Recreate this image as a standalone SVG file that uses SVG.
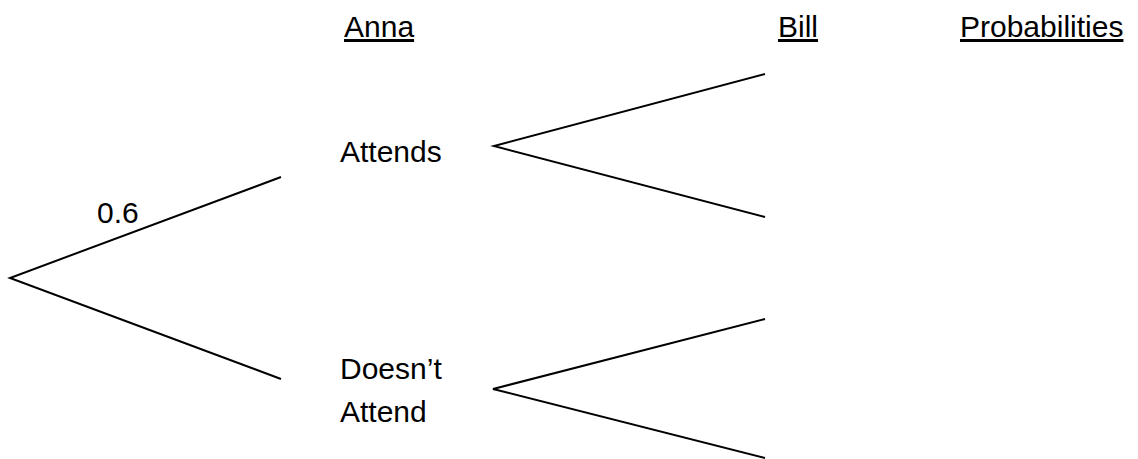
<svg xmlns="http://www.w3.org/2000/svg" width="1138" height="459" viewBox="0 0 1138 459">
  <style>
    text { font-family: "Liberation Sans", Arial, sans-serif; font-size: 30px; fill: #000; }
    .head { text-decoration: underline; }
    .branch { stroke: #000; stroke-width: 2; fill: none; }
  </style>
  <rect width="1138" height="459" fill="#fff"/>

  <!-- column headings -->
  <g id="headings">
    <text class="head" x="344" y="37">Anna</text>
    <text class="head" x="778" y="37">Bill</text>
    <text class="head" x="960" y="37">Probabilities</text>
  </g>

  <!-- branches of the tree -->
  <g id="connectors">
    <polyline class="branch" points="281,177 10,278 281,379"/>
    <polyline class="branch" points="765,74 494,146 765,217"/>
    <polyline class="branch" points="765,319 493,389 765,458"/>
  </g>

  <g id="label-0-6">
    <text x="97" y="223">0.6</text>
  </g>

  <g id="node-attends">
    <text x="340" y="162">Attends</text>
  </g>

  <g id="node-doesnt-attend">
    <text x="340" y="379">Doesn’t</text>
    <text x="340" y="422">Attend</text>
  </g>
</svg>
